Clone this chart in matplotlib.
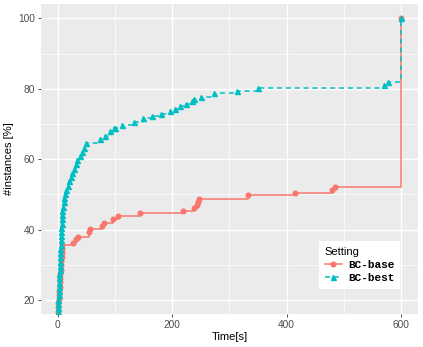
import matplotlib
matplotlib.use("Agg")
import matplotlib.pyplot as plt
from matplotlib.lines import Line2D

# ---- data ----
base_x = [0, 0.5, 1, 1.5, 2, 2.5, 3, 3.5, 4, 4.5, 5, 5.5, 6, 6.5, 7, 7.5, 8,
          27, 32.6, 35.5, 54, 57, 77, 81.4, 96.6, 104.6, 144, 219.6, 239, 243,
          245, 247.6, 332, 415.7, 480, 484, 600]
base_y = [16.7, 17.9, 19.0, 20.2, 21.4, 22.6, 23.8, 25.0, 26.2, 27.4, 28.6,
          29.8, 31.0, 32.1, 33.3, 34.5, 35.6,
          36.3, 37.3, 38.0, 39.4, 40.1, 40.9, 42.0, 43.0, 43.9, 44.7, 45.4,
          46.2, 47.0, 47.7, 48.6, 49.7, 50.4, 51.3, 52.1, 100]

best_x = [0, 0.3, 0.6, 0.9, 1.2, 1.5, 1.8, 2.1, 2.4, 2.7, 3.0, 3.3, 3.6, 3.9,
          4.2, 4.5, 4.8, 5.1, 5.4, 5.8, 6.2, 6.6, 7.0, 7.5, 8.0, 9.0, 10.0,
          11.5, 13, 14.6, 17, 20, 22.5, 25.6, 28, 31, 34, 38, 42.5, 46, 49.5,
          74.5, 83, 92, 97.6, 100.6, 112, 132.5, 149, 165, 180, 196.5, 205,
          214, 225, 234, 238, 250, 273, 313, 350, 570, 577, 600]
best_y = [16.5, 17.7, 18.9, 20.1, 21.3, 22.5, 23.7, 24.9, 26.1, 27.3, 28.5,
          29.7, 30.9, 32.1, 33.3, 34.5, 35.7, 36.9, 38.1, 39.3, 40.5, 41.7,
          42.9, 44.1, 45.3, 46.5, 47.7, 48.9, 50.1, 51.3, 52.5, 53.7, 54.9,
          56.1, 57.3, 58.5, 59.7, 60.9, 62.1, 63.3, 64.5, 65.7, 66.5, 67.9,
          68.8, 69.0, 69.8, 70.5, 71.7, 72.2, 72.8, 73.6, 74.4, 75.0, 75.8,
          76.4, 77.0, 77.8, 78.8, 79.5, 80.2, 81.2, 81.9, 100]

x_ticks = [0, 200, 400, 600]
y_ticks = [20, 40, 60, 80, 100]
series_labels = ["BC-base", "BC-best"]

RED = "#F8766D"
CYAN = "#00BFC4"

W, H = 423, 347
fig = plt.figure(figsize=(W / 100, H / 100), dpi=100)
fig.patch.set_facecolor("white")
l, r, t, b = 40.7, 418, 4, 314
ax = fig.add_axes([l / W, 1 - b / H, (r - l) / W, (b - t) / H])
ax.set_facecolor("#EBEBEB")
for s in ax.spines.values():
    s.set_visible(False)

ax.set_xlim(-30, 630)
ax.set_ylim(16.0, 104.1)
ax.set_xticks(x_ticks)
ax.set_yticks(y_ticks)
ax.set_xticks([100, 300, 500], minor=True)
ax.set_yticks([30, 50, 70, 90], minor=True)
ax.grid(True, which="major", color="white", lw=1.0)
ax.grid(True, which="minor", color="white", lw=0.5)
ax.set_axisbelow(True)
ax.tick_params(which="major", length=2.5, width=0.6, color="#333333",
               labelsize=7.3, labelcolor="#4D4D4D", pad=1.5)
ax.tick_params(which="minor", length=0)
for lab in ax.get_xticklabels() + ax.get_yticklabels():
    lab.set_fontfamily("Liberation Sans")

ax.plot(base_x, base_y, drawstyle="steps-post", color=RED, lw=1.1)
ax.plot(base_x, base_y, ls="none", marker="o", ms=3.3, color=RED)
ax.plot(best_x, best_y, drawstyle="steps-post", color=CYAN, lw=1.1,
        dashes=(3.2, 2.6))
ax.plot(best_x, best_y, ls="none", marker="^", ms=3.6, color=CYAN)

ax.set_xlabel("Time[s]", fontsize=8, family="Liberation Sans", labelpad=1.5)
ax.set_ylabel("#instances [%]", fontsize=8, family="Liberation Sans",
              labelpad=3)

handles = [
    Line2D([], [], color=RED, lw=1.1, marker="o", ms=3.3),
    Line2D([], [], color=CYAN, lw=1.1, marker="^", ms=3.6, dashes=(3.2, 2.6)),
]
leg = ax.legend(handles, series_labels, title="Setting",
                loc="upper left",
                bbox_to_anchor=(319 / W, 1 - 241 / H),
                bbox_transform=fig.transFigure,
                frameon=True, fancybox=False, facecolor="white",
                edgecolor="none", framealpha=1,
                prop={"family": "Liberation Mono", "weight": "bold", "size": 8},
                title_fontproperties={"family": "Liberation Sans", "size": 8},
                handlelength=1.6, handletextpad=0.5, labelspacing=0.3,
                borderpad=0.5, borderaxespad=0, alignment="left")

fig.savefig("out.png", dpi=100)
